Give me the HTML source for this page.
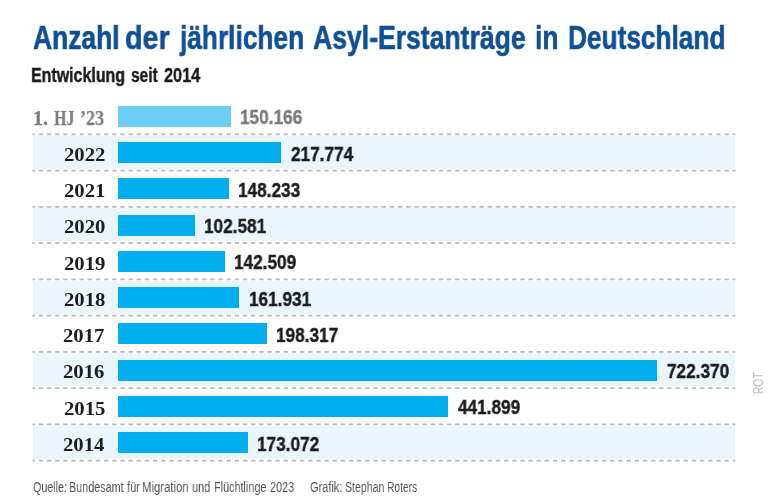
<!DOCTYPE html>
<html lang="de">
<head>
<meta charset="utf-8">
<title>Anzahl der jährlichen Asyl-Erstanträge in Deutschland</title>
<style>
html,body{margin:0;padding:0;background:#fff;}
body{width:768px;height:500px;position:relative;overflow:hidden;font-family:"Liberation Sans",sans-serif;}
.t{position:absolute;white-space:nowrap;transform-origin:0 50%;line-height:1;will-change:transform;}
.title{font-size:32.5px;font-weight:bold;color:#0f4f94;-webkit-text-stroke:0.6px #0f4f94;}
.sub{font-size:20px;font-weight:bold;color:#1a1a1a;-webkit-text-stroke:0.4px #1a1a1a;}
.band{position:absolute;left:32.5px;width:702.5px;background:#eaf5fd;}
.bar{position:absolute;left:118.1px;height:21px;background:#00adee;}
.bar.first{background:#6dcef5;}
.yr{font-family:"Liberation Serif",serif;font-weight:bold;font-size:19.3px;color:#1d1d1f;}
.hj{font-family:"Liberation Serif",serif;font-weight:bold;font-size:20px;color:#7c7c7c;-webkit-text-stroke:0.25px #7c7c7c;}
.val{font-size:20px;font-weight:bold;color:#1d1d1f;-webkit-text-stroke:0.4px #1d1d1f;}
.val.first{color:#7b7b7b;-webkit-text-stroke-color:#7b7b7b;}
.foot{font-size:14px;color:#555;}
.rot{position:absolute;white-space:nowrap;line-height:1;font-size:15px;color:#bebebe;transform-origin:0 0;will-change:transform;}
svg{position:absolute;left:0;top:0;}
</style>
</head>
<body>
<div class="band" style="top:135.90px;height:32.65px"></div>
<div class="band" style="top:208.40px;height:32.65px"></div>
<div class="band" style="top:280.90px;height:32.65px"></div>
<div class="band" style="top:353.40px;height:32.65px"></div>
<div class="band" style="top:425.90px;height:32.65px"></div>
<svg width="768" height="500" viewBox="0 0 768 500">
<line x1="32.5" y1="134.40" x2="735.3" y2="134.40" stroke="#bbbbbb" stroke-width="1.6" stroke-dasharray="4.5 3.663" stroke-dashoffset="2.0"/>
<line x1="32.5" y1="170.65" x2="735.3" y2="170.65" stroke="#bbbbbb" stroke-width="1.6" stroke-dasharray="4.5 3.663" stroke-dashoffset="2.0"/>
<line x1="32.5" y1="206.90" x2="735.3" y2="206.90" stroke="#bbbbbb" stroke-width="1.6" stroke-dasharray="4.5 3.663" stroke-dashoffset="2.0"/>
<line x1="32.5" y1="243.15" x2="735.3" y2="243.15" stroke="#bbbbbb" stroke-width="1.6" stroke-dasharray="4.5 3.663" stroke-dashoffset="2.0"/>
<line x1="32.5" y1="279.40" x2="735.3" y2="279.40" stroke="#bbbbbb" stroke-width="1.6" stroke-dasharray="4.5 3.663" stroke-dashoffset="2.0"/>
<line x1="32.5" y1="315.65" x2="735.3" y2="315.65" stroke="#bbbbbb" stroke-width="1.6" stroke-dasharray="4.5 3.663" stroke-dashoffset="2.0"/>
<line x1="32.5" y1="351.90" x2="735.3" y2="351.90" stroke="#bbbbbb" stroke-width="1.6" stroke-dasharray="4.5 3.663" stroke-dashoffset="2.0"/>
<line x1="32.5" y1="388.15" x2="735.3" y2="388.15" stroke="#bbbbbb" stroke-width="1.6" stroke-dasharray="4.5 3.663" stroke-dashoffset="2.0"/>
<line x1="32.5" y1="424.40" x2="735.3" y2="424.40" stroke="#bbbbbb" stroke-width="1.6" stroke-dasharray="4.5 3.663" stroke-dashoffset="2.0"/>
<line x1="32.5" y1="460.65" x2="735.3" y2="460.65" stroke="#bbbbbb" stroke-width="1.6" stroke-dasharray="4.5 3.663" stroke-dashoffset="2.0"/>
</svg>
<div class="t title" style="left:32.59px;top:22.29px;transform:scaleX(0.8124)">Anzahl</div>
<div class="t title" style="left:124.73px;top:22.29px;transform:scaleX(0.8821)">der</div>
<div class="t title" style="left:179.52px;top:22.29px;transform:scaleX(0.8082)">jährlichen</div>
<div class="t title" style="left:312.84px;top:22.29px;transform:scaleX(0.8176)">Asyl-Erstanträge</div>
<div class="t title" style="left:534.79px;top:22.29px;transform:scaleX(0.8105)">in</div>
<div class="t title" style="left:568.11px;top:22.29px;transform:scaleX(0.8072)">Deutschland</div>
<div class="t sub" style="left:30.95px;top:64.82px;transform:scaleX(0.7985)">Entwicklung</div>
<div class="t sub" style="left:130.60px;top:64.82px;transform:scaleX(0.7757)">seit</div>
<div class="t sub" style="left:163.99px;top:64.82px;transform:scaleX(0.8159)">2014</div>
<div class="bar first" style="top:105.90px;width:112.54px"></div>
<div class="bar" style="top:142.15px;width:162.97px"></div>
<div class="bar" style="top:178.40px;width:111.10px"></div>
<div class="bar" style="top:214.65px;width:77.05px"></div>
<div class="bar" style="top:250.90px;width:106.83px"></div>
<div class="bar" style="top:287.15px;width:121.31px"></div>
<div class="bar" style="top:323.40px;width:148.45px"></div>
<div class="bar" style="top:359.65px;width:539.35px"></div>
<div class="bar" style="top:395.90px;width:330.14px"></div>
<div class="bar" style="top:432.15px;width:129.62px"></div>
<div class="t yr" style="left:63.75px;top:144.79px;transform:scaleX(1.075)">2022</div>
<div class="t yr" style="left:64.03px;top:181.04px;transform:scaleX(1.075)">2021</div>
<div class="t yr" style="left:63.59px;top:217.29px;transform:scaleX(1.075)">2020</div>
<div class="t yr" style="left:63.55px;top:253.54px;transform:scaleX(1.075)">2019</div>
<div class="t yr" style="left:63.54px;top:289.79px;transform:scaleX(1.075)">2018</div>
<div class="t yr" style="left:63.34px;top:326.04px;transform:scaleX(1.075)">2017</div>
<div class="t yr" style="left:63.46px;top:362.29px;transform:scaleX(1.075)">2016</div>
<div class="t yr" style="left:63.59px;top:398.54px;transform:scaleX(1.075)">2015</div>
<div class="t yr" style="left:63.21px;top:434.79px;transform:scaleX(1.075)">2014</div>
<div class="t hj" style="left:33.00px;top:108.15px;transform:scaleX(0.9875)">1.</div>
<div class="t hj" style="left:53.73px;top:108.15px;transform:scaleX(0.8022)">HJ</div>
<div class="t hj" style="left:80.49px;top:108.15px;transform:scaleX(0.8999)">’23</div>
<div class="t val first" style="left:239.79px;top:107.27px;transform:scaleX(0.86)">150.166</div>
<div class="t val" style="left:290.69px;top:143.52px;transform:scaleX(0.86)">217.774</div>
<div class="t val" style="left:238.35px;top:179.77px;transform:scaleX(0.86)">148.233</div>
<div class="t val" style="left:204.29px;top:216.02px;transform:scaleX(0.86)">102.581</div>
<div class="t val" style="left:234.08px;top:252.27px;transform:scaleX(0.86)">142.509</div>
<div class="t val" style="left:248.56px;top:288.52px;transform:scaleX(0.86)">161.931</div>
<div class="t val" style="left:275.70px;top:324.77px;transform:scaleX(0.86)">198.317</div>
<div class="t val" style="left:666.91px;top:361.02px;transform:scaleX(0.86)">722.370</div>
<div class="t val" style="left:458.24px;top:397.27px;transform:scaleX(0.86)">441.899</div>
<div class="t val" style="left:256.87px;top:433.52px;transform:scaleX(0.86)">173.072</div>
<div class="t foot" style="left:32.94px;top:479.75px;transform:scaleX(0.7631)">Quelle:</div>
<div class="t foot" style="left:69.01px;top:479.75px;transform:scaleX(0.7705)">Bundesamt</div>
<div class="t foot" style="left:126.84px;top:479.75px;transform:scaleX(0.7902)">für</div>
<div class="t foot" style="left:142.37px;top:479.75px;transform:scaleX(0.8108)">Migration</div>
<div class="t foot" style="left:191.59px;top:479.75px;transform:scaleX(0.7846)">und</div>
<div class="t foot" style="left:213.51px;top:479.75px;transform:scaleX(0.7736)">Flüchtlinge</div>
<div class="t foot" style="left:270.01px;top:479.75px;transform:scaleX(0.7776)">2023</div>
<div class="t foot" style="left:310.49px;top:479.75px;transform:scaleX(0.7849)">Grafik:</div>
<div class="t foot" style="left:345.18px;top:479.75px;transform:scaleX(0.7562)">Stephan</div>
<div class="t foot" style="left:387.35px;top:479.75px;transform:scaleX(0.7311)">Roters</div>
<div class="rot" style="left:750.1px;top:394px;transform:rotate(-90deg) scaleX(0.68)">ROT</div>
</body>
</html>
